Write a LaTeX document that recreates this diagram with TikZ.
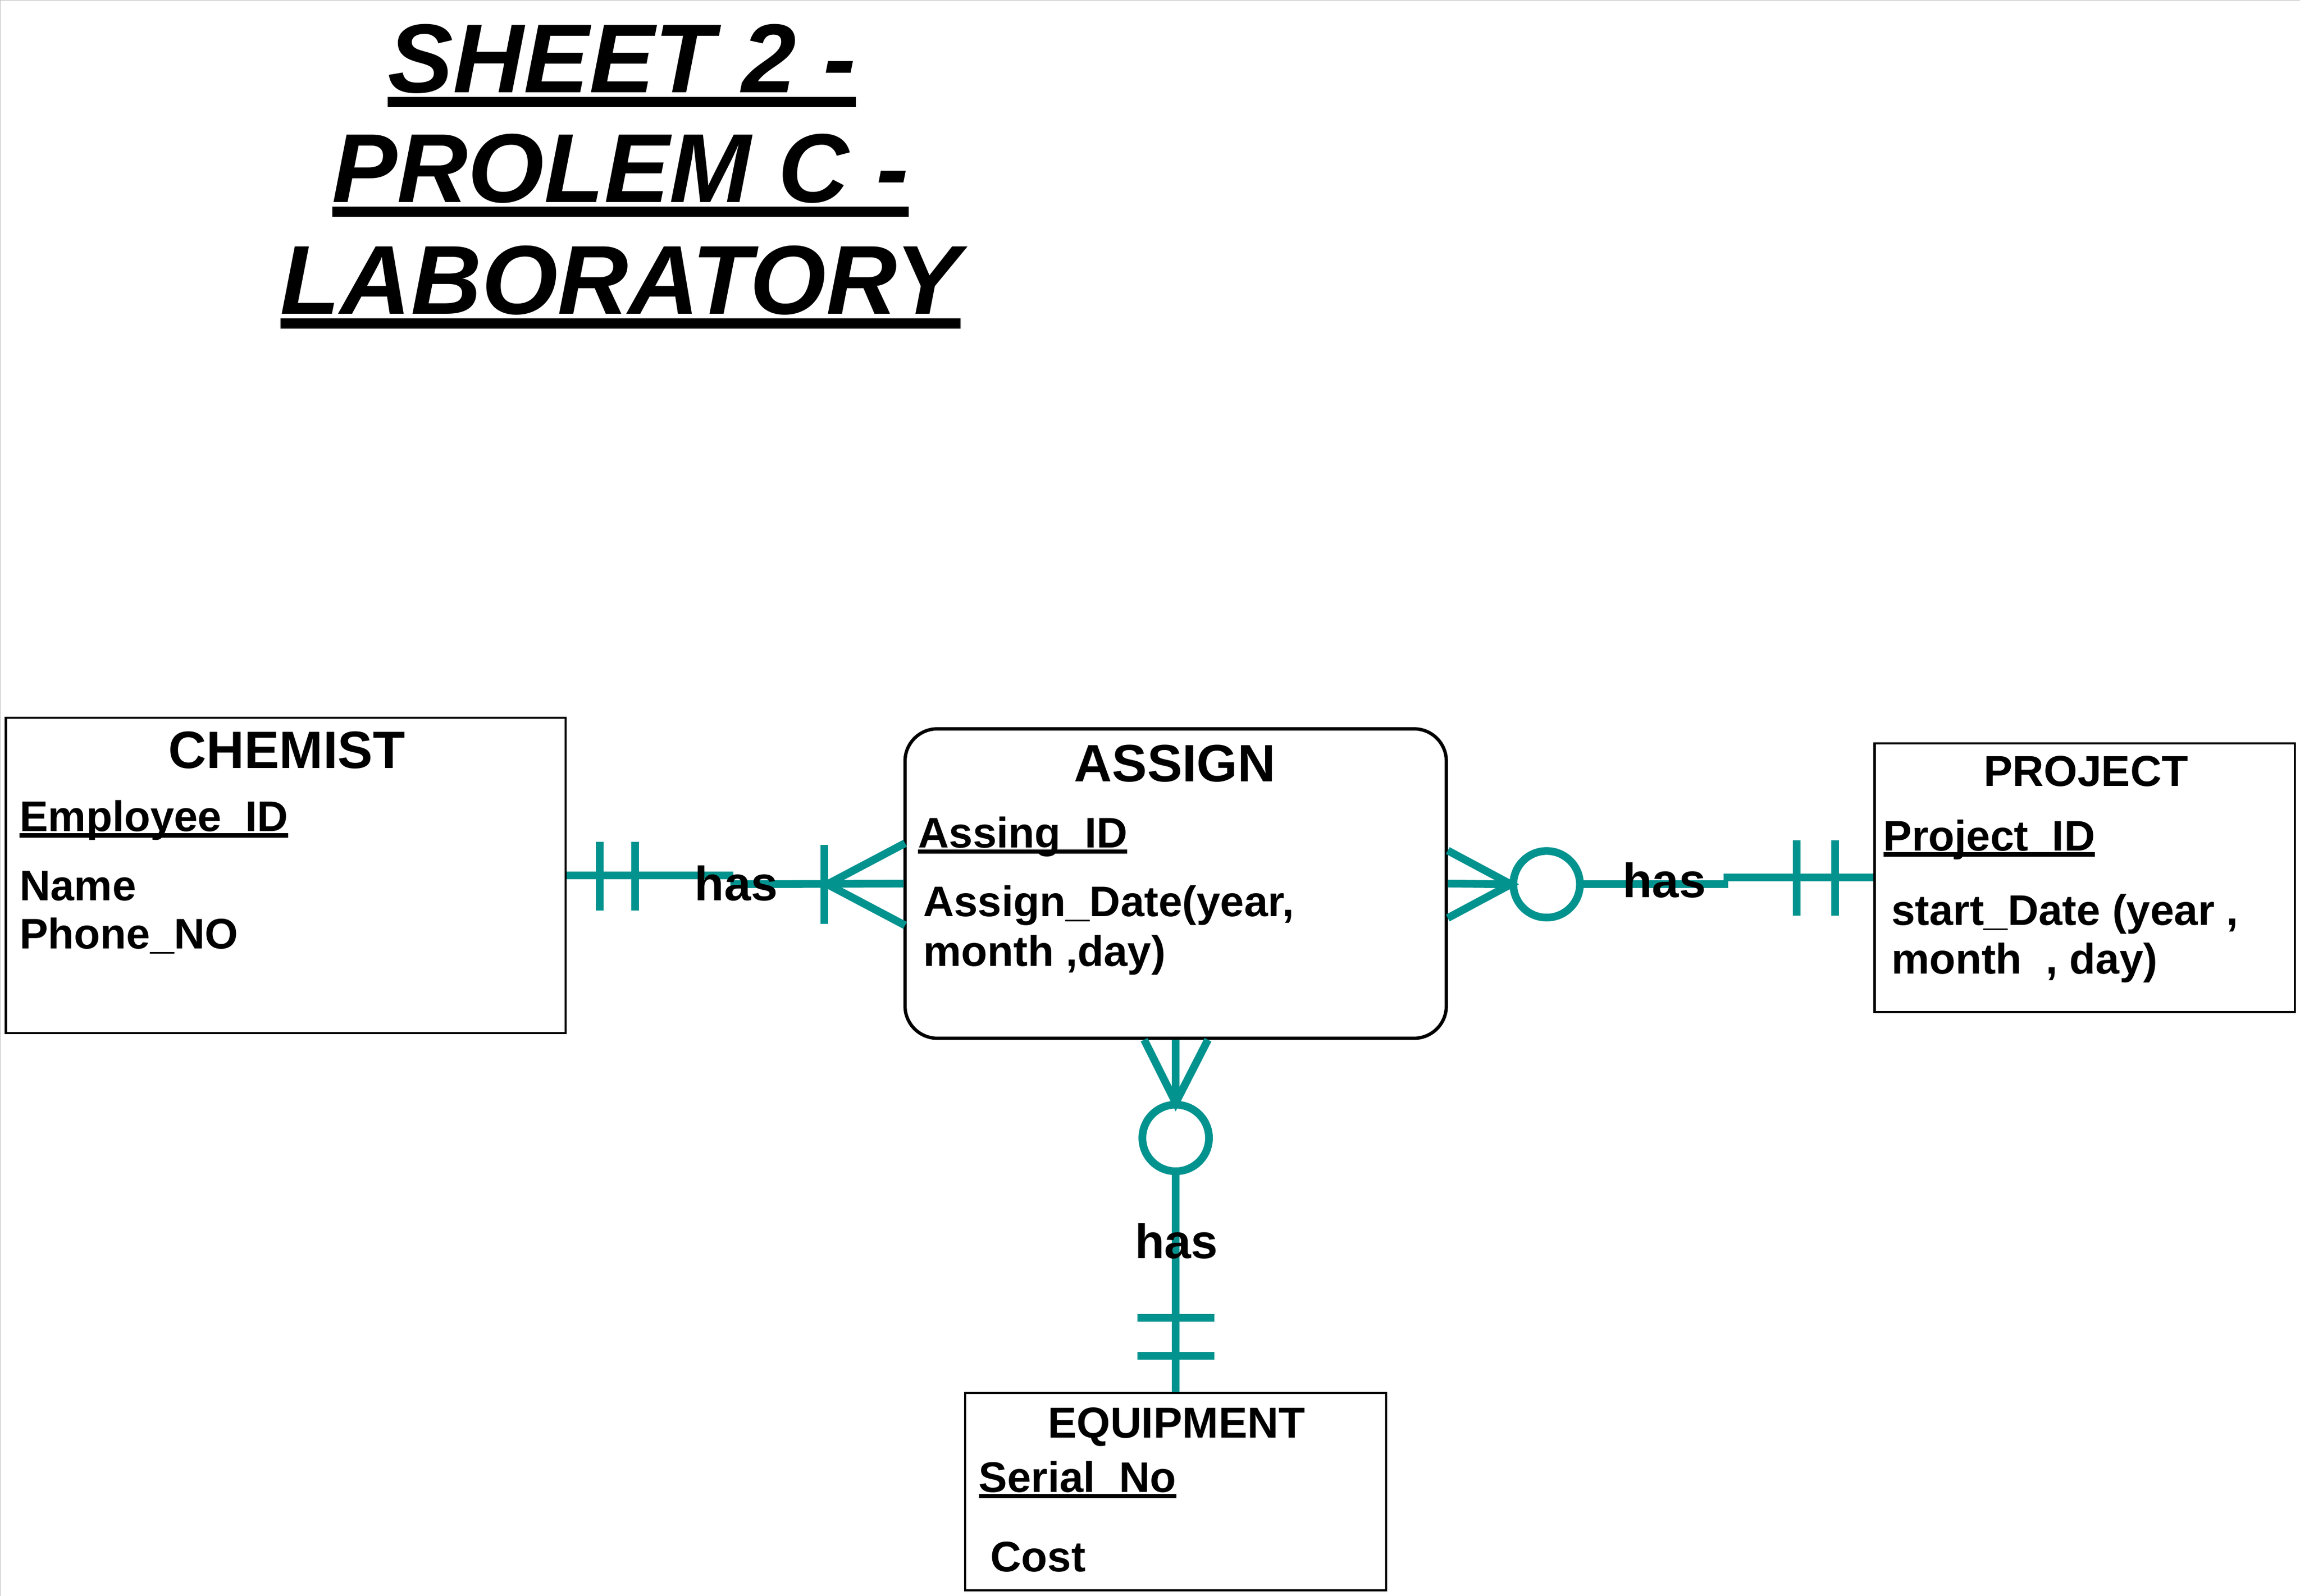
\documentclass[tikz,border=0pt]{standalone}
\usepackage{fontspec}
\setmainfont{Liberation Sans}
\usepackage{xcolor}
\usetikzlibrary{positioning}
\definecolor{erteal}{RGB}{3,147,143}
\definecolor{framegray}{RGB}{190,190,190}
\newcommand\ulbox[3]{\setbox0\hbox{#3}\rlap{\rule[-#1]{\wd0}{#2}}\box0}

\begin{document}
\begin{tikzpicture}[
            x=0.2mm, y=-0.2mm,
            title/.style={font=\fontsize{38}{42}\selectfont\bfseries\itshape,inner sep=0,anchor=base},
            entity/.style={draw,line width=0.85pt,inner sep=0},
            weak/.style={draw,line width=1.3pt,rounded corners=4.4mm,inner sep=0},
            head/.style={font=\fontsize{20.4}{24}\selectfont\bfseries,inner sep=0,anchor=base},
            subhead/.style={font=\fontsize{16.8}{20}\selectfont\bfseries,inner sep=0,anchor=base},
            attr/.style={font=\fontsize{16.6}{20}\selectfont\bfseries,inner sep=0,anchor=base west},
            rel/.style={font=\fontsize{18.7}{22}\selectfont\bfseries,inner sep=0,anchor=base},
            opt/.style={circle,draw=erteal,line width=3pt,minimum size=9.08mm,inner sep=0}
        ]
            \useasboundingbox (0,0) rectangle (1568,1088.3);
            \draw[framegray,line width=0.2pt] (0.3,1088.3) -- (0.3,0.3) -- (1568,0.3);

            \node[title] (t1) at (424,63)  {\ulbox{0.15em}{0.105em}{SHEET 2 -}};
            \node[title] (t2) at (423,138) {\ulbox{0.15em}{0.105em}{PROLEM C -}};
            \node[title] (t3) at (423,214) {\ulbox{0.15em}{0.105em}{LABORATORY}};

            \node[entity,minimum width=76.3mm,minimum height=43mm]   (chemist)   at (194.75,597)   {};
            \node[weak,minimum width=73.8mm,minimum height=42.2mm]   (assign)    at (801.5,602.5)  {};
            \node[entity,minimum width=57.3mm,minimum height=36.6mm] (project)   at (1421.25,598.5) {};
            \node[entity,minimum width=57.4mm,minimum height=26.9mm] (equipment) at (801.5,1017.25) {};

            \node[head]    (chemistname)   at (195.5,524) {CHEMIST};
            \node[head]    (assignname)    at (801,533)   {ASSIGN};
            \node[subhead] (projectname)   at (1422,536)  {PROJECT};
            \node[subhead] (equipmentname) at (802,980.5) {EQUIPMENT};

            \node[attr] (empid)   at (13,567)   {\ulbox{0.14em}{0.1em}{Employee\_ID}};
            \node[attr] (name)    at (13,614)   {Name};
            \node[attr] (phone)   at (13,647)   {Phone\_NO};
            \node[attr] (assid)   at (625.6,578) {\ulbox{0.14em}{0.1em}{Assing\_ID}};
            \node[attr] (adate)   at (629,625)  {Assign\_Date(year,};
            \node[attr] (adate2)  at (629,659)  {month ,day)};
            \node[attr] (projid)  at (1283.6,580) {\ulbox{0.14em}{0.1em}{Project\_ID}};
            \node[attr] (sdate)   at (1289,631) {start\_Date (year ,};
            \node[attr] (sdate2)  at (1289,664) {month\ \ , day)};
            \node[attr] (serial)  at (667,1017.5) {\ulbox{0.14em}{0.1em}{Serial\_No}};
            \node[attr] (cost)    at (675,1071.6) {Cost};

            \node[opt] (oright)  at (1054.4,603) {};
            \node[opt] (obottom) at (801.5,776)  {};

            \coordinate (l1) at (500,597);
            \coordinate (l2) at (498,603);
            \coordinate (r1) at (1178,603);
            \coordinate (r2) at (1175,598.5);

            \begin{scope}[erteal,line width=3pt]
                \draw (chemist.east) -- (l1);
                \draw (l2) -- (assign.west);
                \foreach \x in {409,433} \draw (\x,574) -- (\x,621);
                \draw (562,576) -- (562,630);
                \draw (617,575) -- (564,603) -- (617,631);

                \draw (assign.east) -- (oright.west);
                \draw (987,580) -- (1030,603) -- (987,626);
                \draw (oright.east) -- (r1);
                \draw (r2) -- (project.west);
                \foreach \x in {1225,1251} \draw (\x,573) -- (\x,624.5);

                \draw (assign.south) -- (obottom.north);
                \draw (780,709) -- (801.5,752) -- (823.5,709);
                \draw (obottom.south) -- (equipment.north);
                \foreach \y in {898.6,924.5} \draw (775.5,\y) -- (828,\y);
            \end{scope}

            \node[rel] (hasleft)   at (502,614)    {has};
            \node[rel] (hasright)  at (1134.6,612) {has};
            \node[rel] (hasbottom) at (802,858)    {has};
        \end{tikzpicture}
\end{document}
